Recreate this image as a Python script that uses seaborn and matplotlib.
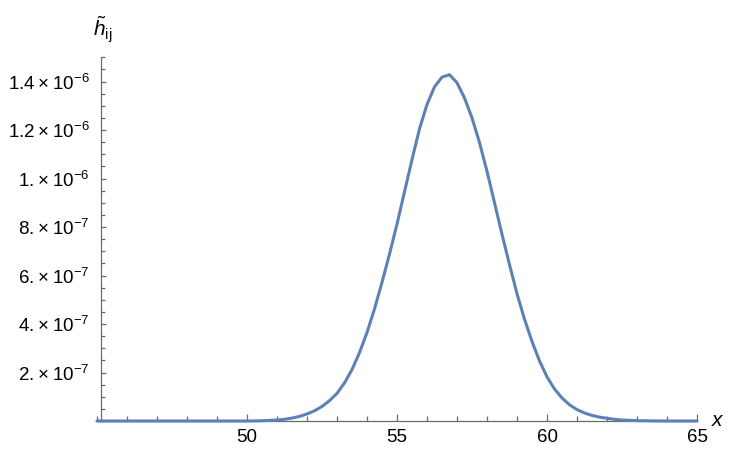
import numpy as np
import pandas as pd
import matplotlib
matplotlib.use("Agg")
import matplotlib.pyplot as plt
import seaborn as sns
from matplotlib.ticker import MultipleLocator, FixedLocator

# curve samples (y in units of 1e-6)
x_vals = [45.0, 46.0, 47.0, 48.0, 49.0, 50.0, 50.5,
          51.0, 51.25, 51.5, 51.75, 52.0, 52.25, 52.5, 52.75,
          53.0, 53.25, 53.5, 53.75, 54.0, 54.25, 54.5, 54.75,
          55.0, 55.25, 55.5, 55.75, 56.0, 56.25, 56.5, 56.75,
          57.0, 57.25, 57.5, 57.75, 58.0, 58.25, 58.5, 58.75,
          59.0, 59.25, 59.5, 59.75, 60.0, 60.25, 60.5, 60.75,
          61.0, 61.25, 61.5, 61.75, 62.0, 62.25, 62.5, 63.0,
          63.5, 64.0, 65.0]
h_vals = [0.0, 0.0, 0.0, 0.0, 0.0, 0.0, 0.001,
          0.004, 0.007, 0.012, 0.019, 0.029, 0.042, 0.060, 0.084,
          0.114, 0.157, 0.212, 0.282, 0.365, 0.462, 0.572, 0.688,
          0.812, 0.945, 1.078, 1.205, 1.305, 1.378, 1.418, 1.428,
          1.395, 1.332, 1.250, 1.148, 1.030, 0.900, 0.770, 0.645,
          0.525, 0.420, 0.328, 0.248, 0.182, 0.132, 0.095, 0.067,
          0.047, 0.033, 0.023, 0.016, 0.011, 0.007, 0.004, 0.0015,
          0.0005, 0.0, 0.0]

y_ticks = [2e-7, 4e-7, 6e-7, 8e-7, 1e-6, 1.2e-6, 1.4e-6]
y_mantissas = ["2.", "4.", "6.", "8.", "1.", "1.2", "1.4"]
y_exponents = [-7, -7, -7, -7, -6, -6, -6]
x_ticks = [50, 55, 60, 65]

y_tick_labels = ["%s\u2009\u00d7\u200910$^{%d}$" % (m, e)
                 for m, e in zip(y_mantissas, y_exponents)]

df = pd.DataFrame({"x": x_vals, "h": np.array(h_vals) * 1e-6})

sns.set_style("white")
plt.rcParams["font.family"] = ["Liberation Sans", "DejaVu Sans"]
plt.rcParams["mathtext.fontset"] = "custom"
plt.rcParams["mathtext.rm"] = "Liberation Sans"
plt.rcParams["mathtext.it"] = "Liberation Sans:italic"

fig = plt.figure(figsize=(7.44, 4.58), dpi=100)
ax = fig.add_axes([97 / 744, 37 / 458, 600 / 744, 363.75 / 458])

line_color = "#5e81b5"
axis_color = "#6b6b6b"

sns.lineplot(data=df, x="x", y="h", ax=ax, color=line_color, linewidth=2.2,
             clip_on=False, zorder=5)

ax.set_xlim(45, 65)
ax.set_ylim(0, 1.5e-6)

for s in ["top", "right"]:
    ax.spines[s].set_visible(False)
ax.spines["left"].set_position(("data", 45.133))
ax.spines["bottom"].set_position(("data", 0))
for s in ["left", "bottom"]:
    ax.spines[s].set_color(axis_color)
    ax.spines[s].set_linewidth(0.9)

ax.xaxis.set_major_locator(FixedLocator(x_ticks))
ax.xaxis.set_minor_locator(MultipleLocator(1))
ax.yaxis.set_major_locator(FixedLocator(y_ticks))
ax.yaxis.set_minor_locator(MultipleLocator(5e-8))
ax.set_yticklabels(y_tick_labels)

ax.tick_params(axis="x", which="major", direction="in", length=5, width=0.9,
               color=axis_color, labelsize=13.5, labelcolor="black", pad=6, bottom=True)
ax.tick_params(axis="x", which="minor", direction="in", length=3.5, width=0.9,
               color=axis_color, bottom=True)
ax.tick_params(axis="y", which="major", direction="in", length=3.5, width=0.9,
               color=axis_color, labelsize=13.5, labelcolor="black", pad=8, left=True)
ax.tick_params(axis="y", which="minor", direction="in", length=2.6, width=0.9,
               color=axis_color, left=True)

ax.set_xlabel("")
ax.set_ylabel("")

fig.text(103 / 744, 1 - 30 / 458, r"$\tilde{h}_{\mathrm{ij}}$", ha="center", va="center",
         fontsize=15, color="black")
fig.text(718 / 744, 1 - 420 / 458, r"$x$", ha="center", va="center", fontsize=15,
         color="black")

fig.savefig("out.png", dpi=100)
